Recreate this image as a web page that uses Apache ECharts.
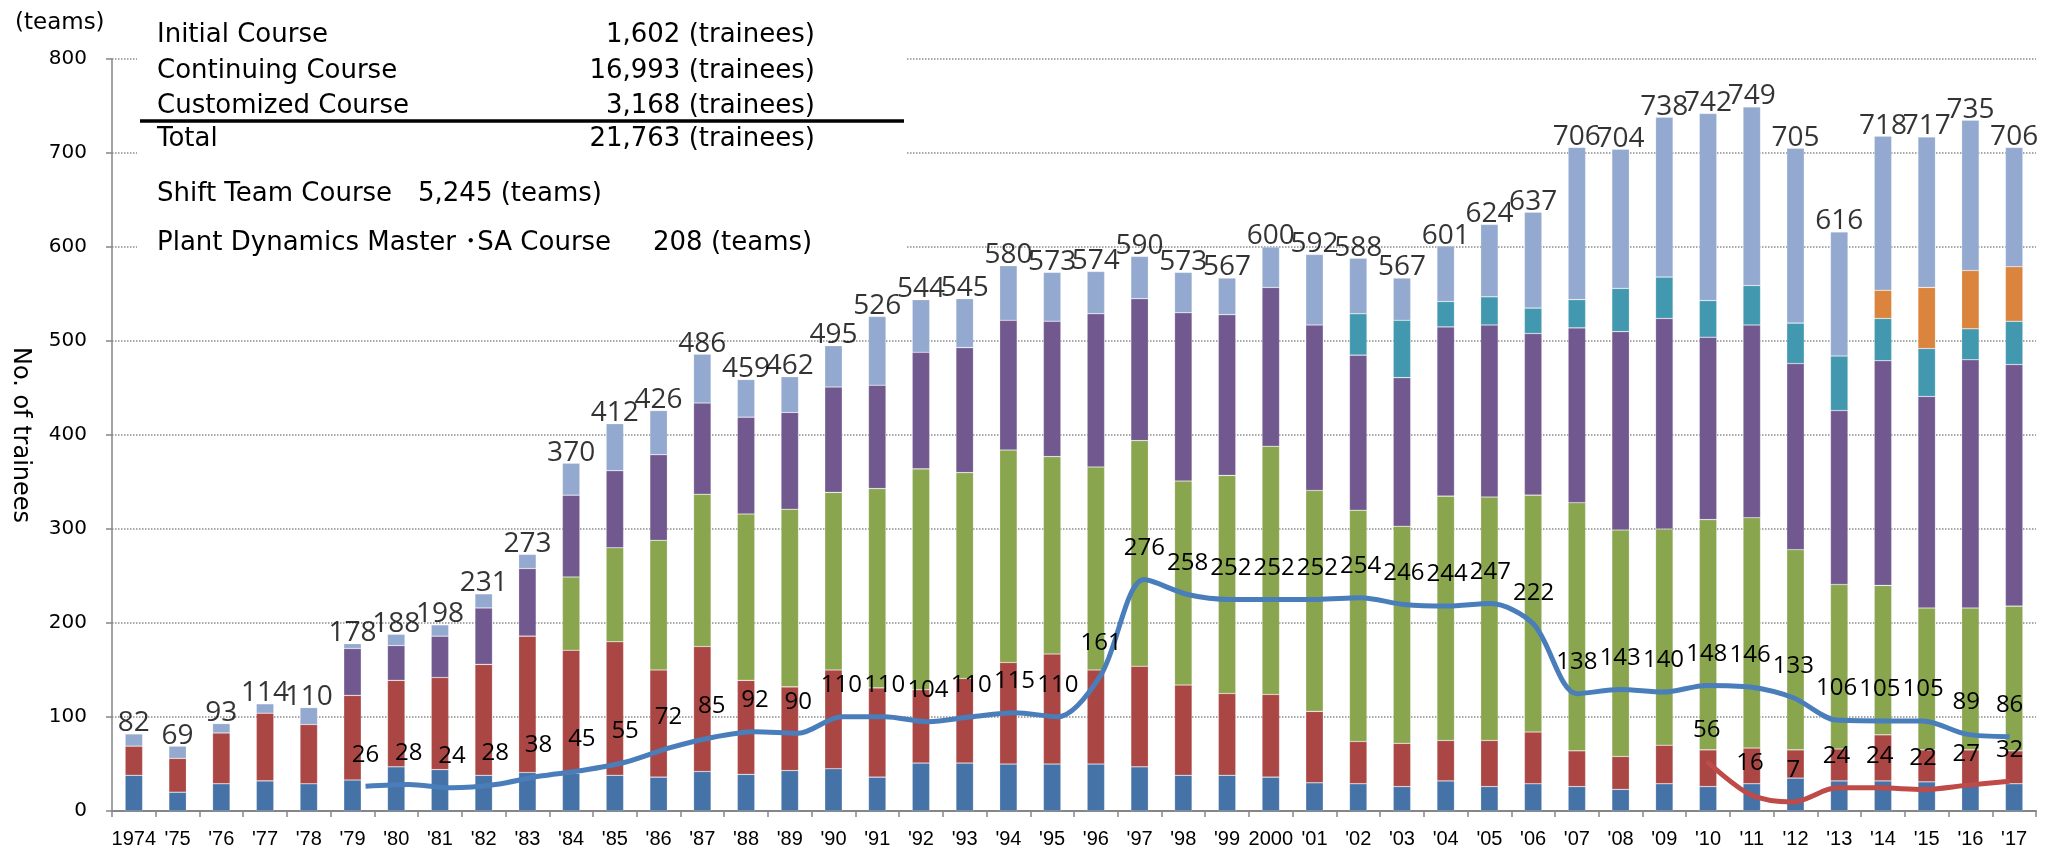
<!DOCTYPE html>
<html>
<head>
<meta charset="utf-8">
<script src="https://cdn.jsdelivr.net/npm/echarts@6/dist/echarts.min.js"></script>
<style>
html,body{margin:0;padding:0;background:#fff;}
#chart{width:2051px;height:850px;}
</style>
</head>
<body>
<div id="chart"></div>
<script>
// ---------- data ----------
const years = ['1974',"'75","'76","'77","'78","'79","'80","'81","'82","'83","'84","'85","'86","'87","'88","'89","'90","'91","'92","'93","'94","'95","'96","'97","'98","'99",'2000',"'01","'02","'03","'04","'05","'06","'07","'08","'09","'10","'11","'12","'13","'14","'15","'16","'17"];

const segBlue   = [38,20,29,32,29,33,47,44,38,41,40,38,36,42,39,43,45,36,51,51,50,50,50,47,38,38,36,30,29,26,32,26,29,26,23,29,26,29,35,32,32,31,28,29];
const segRed    = [31,36,54,72,63,90,92,98,118,145,131,142,114,133,100,89,105,95,78,90,108,117,100,107,96,87,88,76,45,46,43,49,55,38,35,41,39,38,30,34,49,34,37,35];
const segGreen  = [0,0,0,0,0,0,0,0,0,0,78,100,138,162,177,189,189,212,235,219,226,210,216,240,217,232,264,235,246,231,260,259,252,264,241,230,245,245,213,175,159,151,151,154];
const segPurple = [0,0,0,0,0,50,37,44,60,72,87,82,91,97,103,103,112,110,124,133,138,144,163,151,179,171,169,176,165,158,180,183,172,186,211,224,194,205,198,185,239,225,264,257];
const segTeal   = [0,0,0,0,0,0,0,0,0,0,0,0,0,0,0,0,0,0,0,0,0,0,0,0,0,0,0,0,44,61,27,30,27,30,46,44,39,42,43,58,45,51,33,46];
const segOrange = [0,0,0,0,0,0,0,0,0,0,0,0,0,0,0,0,0,0,0,0,0,0,0,0,0,0,0,0,0,0,0,0,0,0,0,0,0,0,0,0,30,65,62,58];
const segLight  = [13,13,10,10,18,5,12,12,15,15,34,50,47,52,40,38,44,73,56,52,58,52,45,45,43,39,43,75,59,45,59,77,102,162,148,170,199,190,186,132,164,160,160,127];
const totals    = [82,69,93,114,110,178,188,198,231,273,370,412,426,486,459,462,495,526,544,545,580,573,574,590,573,567,600,592,588,567,601,624,637,706,704,738,742,749,705,616,718,717,735,706];

// teams (lines)
const shiftTeamStart = 5;   // index of '79
const shiftTeam = [26,28,24,28,38,45,55,72,85,92,90,110,110,104,110,115,110,161,276,258,252,252,252,254,246,244,247,222,138,143,140,148,146,133,106,105,105,89,86];
const plantStart = 36;      // index of '10
const plantDyn = [56,16,7,24,24,22,27,32];

const yTicks = {min:0, max:800, interval:100};

const summaryRows = [
  ['Initial Course', '1,602 (trainees)'],
  ['Continuing Course', '16,993 (trainees)'],
  ['Customized Course', '3,168 (trainees)'],
  ['Total', '21,763 (trainees)']
];
const teamRows = [
  ['Shift Team Course', '5,245 (teams)'],
  ['Plant Dynamics Master \uFF65SA Course', '208 (teams)']
];

// ---------- chart ----------
const colors = ['#4572A7','#AA4643','#89A54E','#71588F','#4198AF','#DB843D','#93A9CF'];
const segs = [segBlue, segRed, segGreen, segPurple, segTeal, segOrange, segLight];
const segNames = ['s1','s2','s3','s4','s5','s6','s7'];

const boxFont = '26px "DejaVu Sans", "Noto Sans CJK JP", sans-serif';
const barSeries = segs.map((arr, k) => ({
  type:'bar', name:segNames[k], stack:'total', barWidth:17.5,
  xAxisIndex:0, yAxisIndex:0,
  itemStyle:{color:colors[k], borderColor:'rgba(255,255,255,0.35)', borderWidth:0.6},
  data: arr.map(v => v === 0 ? '-' : v),
  z:2
}));

const lineLabel = {show:true, position:'top', distance:19, color:'#000',
  fontFamily:'"Open Sans", sans-serif', fontSize:24};

const graphics = [
  {type:'rect', shape:{x:137, y:0, width:770, height:266}, style:{fill:'#fff'}, z:5, silent:true},
  {type:'line', shape:{x1:140, y1:121, x2:904, y2:121}, style:{stroke:'#000', lineWidth:3.5}, z:6},
  {type:'text', x:15, y:23, z:6, style:{text:'(teams)', font:'23px "DejaVu Sans", sans-serif', fill:'#000', align:'left', verticalAlign:'middle', textAlign:'left', textVerticalAlign:'middle'}}
];
const rowY = [35, 71, 106, 139];
summaryRows.forEach((r, i) => {
  graphics.push({type:'text', x:157, y:rowY[i], z:6, style:{text:r[0], font:boxFont, fill:'#000', align:'left', verticalAlign:'middle', textAlign:'left', textVerticalAlign:'middle'}});
  graphics.push({type:'text', x:815, y:rowY[i], z:6, style:{text:r[1], font:boxFont, fill:'#000', align:'right', verticalAlign:'middle', textAlign:'right', textVerticalAlign:'middle'}});
});
const teamY = [194, 243];
const teamValX = [418, 653];
teamRows.forEach((r, i) => {
  graphics.push({type:'text', x:157, y:teamY[i], z:6, style:{text:r[0], font:boxFont, fill:'#000', align:'left', verticalAlign:'middle', textAlign:'left', textVerticalAlign:'middle'}});
  graphics.push({type:'text', x:teamValX[i], y:teamY[i], z:6, style:{text:r[1], font:boxFont, fill:'#000', align:'left', verticalAlign:'middle', textAlign:'left', textVerticalAlign:'middle'}});
});

const axisGray = '#868686';
const option = {
  animation:false,
  backgroundColor:'#fff',
  grid:{left:111, right:15, top:59, bottom:39},
  xAxis:[
    {type:'category', data:years, gridIndex:0,
     axisLine:{onZero:false, lineStyle:{color:axisGray, width:2}},
     axisTick:{show:true, interval:0, length:6, lineStyle:{color:axisGray, width:1.5}},
     axisLabel:{interval:0, color:'#000', fontSize:20, margin:18, fontFamily:'"Liberation Sans", Arial, sans-serif'}},
    {type:'value', gridIndex:0, min:-0.86, max:43.61, show:false}
  ],
  yAxis:[
    {type:'value', min:yTicks.min, max:yTicks.max, interval:yTicks.interval,
     name:'No. of trainees', nameLocation:'middle', nameRotate:-90, nameGap:80,
     nameTextStyle:{fontFamily:'"DejaVu Sans", sans-serif', fontSize:24, color:'#000'},
     axisLine:{show:true, onZero:false, lineStyle:{color:axisGray, width:1.5}},
     axisTick:{show:true, length:6, lineStyle:{color:axisGray, width:1.5}},
     axisLabel:{color:'#000', fontSize:20, margin:25, fontFamily:'"DejaVu Sans", sans-serif'},
     splitLine:{show:true, lineStyle:{color:'#8c8c8c', type:'dotted', width:1.5}}},
    {type:'value', min:-4, max:906, show:false, splitLine:{show:false}}
  ],
  graphic: graphics,
  series:[
    ...barSeries,
    {type:'scatter', name:'totals', xAxisIndex:0, yAxisIndex:0, data:totals, symbolSize:1,
     itemStyle:{color:'rgba(0,0,0,0)'}, z:10,
     label:{show:true, position:'top', distance:-4, color:'#000', fontFamily:'"Open Sans", sans-serif', fontSize:28}},
    {type:'line', name:'Shift Team Course', xAxisIndex:1, yAxisIndex:1, smooth:0.3,
     data: shiftTeam.map((v,i) => [shiftTeamStart + i, v]),
     symbol:'circle', symbolSize:1, showSymbol:true,
     lineStyle:{color:'#4A7EBB', width:5}, itemStyle:{color:'rgba(0,0,0,0)'}, z:8,
     label:Object.assign({}, lineLabel, {formatter: p => p.value[1]})},
    {type:'line', name:'Plant Dynamics', xAxisIndex:1, yAxisIndex:1, smooth:0.3,
     data: plantDyn.map((v,i) => [plantStart + i, v]),
     symbol:'circle', symbolSize:1, showSymbol:true,
     lineStyle:{color:'#BE4B48', width:5}, itemStyle:{color:'rgba(0,0,0,0)'}, z:8,
     label:Object.assign({}, lineLabel, {formatter: p => p.value[1]})}
  ]
};
const chart = echarts.init(document.getElementById('chart'), null, {renderer:'canvas'});
chart.setOption(option);
</script>
</body>
</html>
